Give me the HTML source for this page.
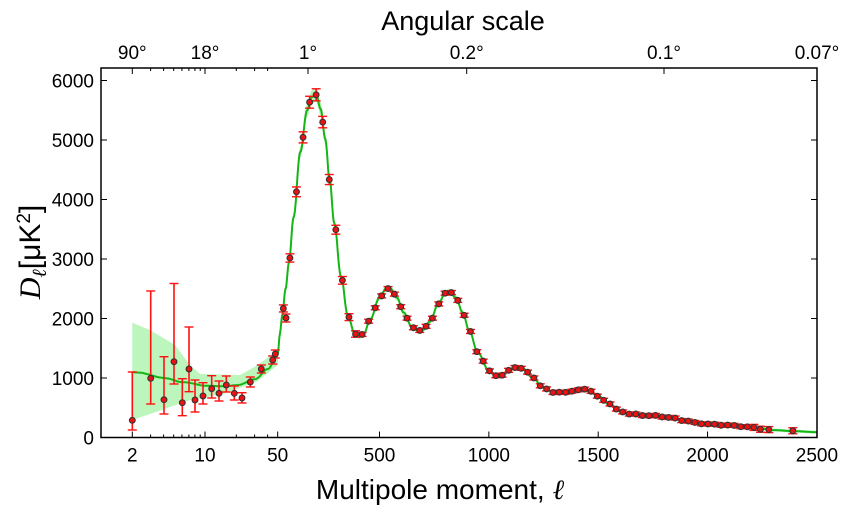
<!DOCTYPE html>
<html><head><meta charset="utf-8"><style>
html,body{margin:0;padding:0;background:#fff;}
svg text{font-family:"Liberation Sans",sans-serif;fill:#000;}
</style></head><body>
<svg id="s" width="850" height="513" xmlns="http://www.w3.org/2000/svg"></svg>
<script>
(function(){
const S=document.getElementById('s');
const L=101,R=817,T=68,B=437.5;
function X(l){if(l<=50)return 132.3+(Math.log10(l)-Math.log10(2))*104;
 if(l<=500)return 277.7+(l-50)*(101.8/450);return 379.5+(l-500)*0.2187;}
function Y(d){return B-d*0.0595;}
let h='';
const model=[[2,1100],[4,1000],[6,930],[10,870],[15,860],[20,880],[30,980],[40,1150],[50,1400],[60,1750],[70,2050],[85,2500],[100,2950],[120,3700],[150,4800],[180,5500],[200,5720],[220,5760],[240,5520],[260,5020],[280,4320],[300,3600],[330,2700],[360,2050],[390,1750],[410,1690],[430,1740],[460,1990],[500,2350],[530,2500],[550,2500],[580,2350],[610,2100],[650,1850],[680,1790],[700,1810],[730,1950],[770,2250],[800,2420],[820,2450],[850,2350],[880,2100],[910,1800],[950,1420],[1000,1130],[1030,1040],[1060,1040],[1100,1140],[1130,1200],[1160,1150],[1200,1000],[1250,840],[1300,750],[1350,760],[1400,800],[1430,810],[1460,780],[1500,700],[1550,560],[1600,440],[1650,395],[1700,375],[1750,365],[1800,350],[1850,320],[1900,280],[1950,245],[2000,225],[2050,215],[2100,205],[2150,190],[2200,170],[2250,145],[2300,125],[2400,105],[2500,90]];
function D(l){for(let i=0;i<model.length-1;i++){const a=model[i],b=model[i+1];if(l>=a[0]&&l<=b[0]){const t=(l-a[0])/(b[0]-a[0]);return a[1]+(b[1]-a[1])*(0.5-0.5*Math.cos(Math.PI*t));}}return 90;}
const bandTop=[[132.3,322.7],[150,330],[175,345],[190,365],[200,374],[240,375],[256,366],[270,356],[278,348]];
const bandBot=[[278,365],[276.7,366],[256.7,381.7],[223,394],[190,400],[156.7,411.7],[132.3,420]];
let bp=bandTop.concat(bandBot).map(p=>p.join(',')).join(' ');
h+=`<polygon points="${bp}" fill="#b6f5b6" opacity="0.9"/>`;
let up=[],dn=[];
for(let l=50;l<=2500;l+=5){const x=X(l),d=D(l),w=Math.max(1.5,d*0.0012);up.push([x,Y(d)-w]);dn.unshift([x,Y(d)+w]);}
h+=`<polygon points="${up.concat(dn).map(p=>p[0].toFixed(1)+','+p[1].toFixed(1)).join(' ')}" fill="#b6f5b6"/>`;
let pts=[];for(let l=2;l<=50;l+=0.5)pts.push([X(l),Y(D(l))]);for(let l=51;l<=2500;l+=3)pts.push([X(l),Y(D(l))]);
h+=`<polyline points="${pts.map(p=>p[0].toFixed(1)+','+p[1].toFixed(1)).join(' ')}" fill="none" stroke="#16b516" stroke-width="2"/>`;
const low=[[132.3,420.3,372,430],[150.7,378.3,291,404],[164,399.7,356.7,414],[174,361.7,283.5,384],[182.3,402.7,378.7,415.7],[189,369,327,391.7],[195,400,380,412],[203,396,382.7,404],[211.7,388.7,375.7,398],[219,393.3,381,401],[226.3,385,376,392],[234.3,393.3,386,400],[242,398,392.7,403],[250.3,382,377,387],[261.3,369,365,373],[272.7,360,356,364],[275.3,354,350,358],[286,318,314,322]];
let dots=[];
low.forEach(p=>dots.push(p));
const ls=[];for(let l=75;l<=2260;l+=(l<1600?29:30))ls.push(l);ls.push(2280,2390);
ls.forEach(l=>{const d=D(l)+(Math.sin(l*0.7)*8);const y=Y(d);const e=l<400?2+d*0.0007:(l>2200?3:2);dots.push([X(l),y,y-e,y+e]);});
dots.forEach(p=>{h+=`<line x1="${p[0]}" x2="${p[0]}" y1="${p[2]}" y2="${p[3]}" stroke="#f11" stroke-width="1.6"/><line x1="${p[0]-4.5}" x2="${p[0]+4.5}" y1="${p[2]}" y2="${p[2]}" stroke="#f11" stroke-width="1.4"/><line x1="${p[0]-4.5}" x2="${p[0]+4.5}" y1="${p[3]}" y2="${p[3]}" stroke="#f11" stroke-width="1.4"/>`;});
dots.forEach(p=>{h+=`<circle cx="${p[0]}" cy="${p[1]}" r="2.9" fill="#e11" stroke="#333" stroke-width="1.1"/>`;});
h+=`<rect x="${L}" y="${T}" width="${R-L}" height="${B-T}" fill="none" stroke="#000" stroke-width="1.5"/>`;
for(let v=0;v<=6000;v+=1000){const y=Y(v);h+=`<line x1="${L}" x2="${L+6}" y1="${y}" y2="${y}" stroke="#000"/><line x1="${R}" x2="${R-6}" y1="${y}" y2="${y}" stroke="#000"/><text x="${L-7}" y="${y+7}" font-size="19" text-anchor="end">${v}</text>`;}
const bt=[[2,'2'],[10,'10'],[50,'50'],[500,'500'],[1000,'1000'],[1500,'1500'],[2000,'2000'],[2500,'2500']];
bt.forEach(t=>{const x=X(t[0]);h+=`<line x1="${x}" x2="${x}" y1="${B}" y2="${B-6}" stroke="#000"/><text x="${x}" y="${B+24}" font-size="19" text-anchor="middle">${t[1]}</text>`;});
[3,4,5,6,7,8,9,20,30,40].forEach(l=>{const x=X(l);h+=`<line x1="${x}" x2="${x}" y1="${B}" y2="${B-3}" stroke="#000"/><line x1="${x}" x2="${x}" y1="${T}" y2="${T+3}" stroke="#000"/>`;});
const tt=[[132.3,'90°'],[205,'18°'],[308,'1°'],[466.7,'0.2°'],[664,'0.1°'],[817,'0.07°']];
tt.forEach(t=>{h+=`<line x1="${t[0]}" x2="${t[0]}" y1="${T}" y2="${T+6}" stroke="#000"/><text x="${t[0]}" y="${T-9}" font-size="19" text-anchor="middle">${t[1]}</text>`;});
h+=`<text x="463" y="30" font-size="27" text-anchor="middle">Angular scale</text>`;
h+=`<text x="440" y="499" font-size="28" text-anchor="middle">Multipole moment, <tspan font-style="italic" font-family="Liberation Serif,serif">ℓ</tspan></text>`;
h+=`<text transform="translate(40,252) rotate(-90)" font-size="30" text-anchor="middle"><tspan font-family="Liberation Serif,serif" font-style="italic">D</tspan><tspan font-size="20" dy="6" font-style="italic" font-family="Liberation Serif,serif">ℓ</tspan><tspan dy="-6">[μK</tspan><tspan font-size="19" dy="-10">2</tspan><tspan dy="10">]</tspan></text>`;
S.innerHTML=h;
})();
</script>
</body></html>
